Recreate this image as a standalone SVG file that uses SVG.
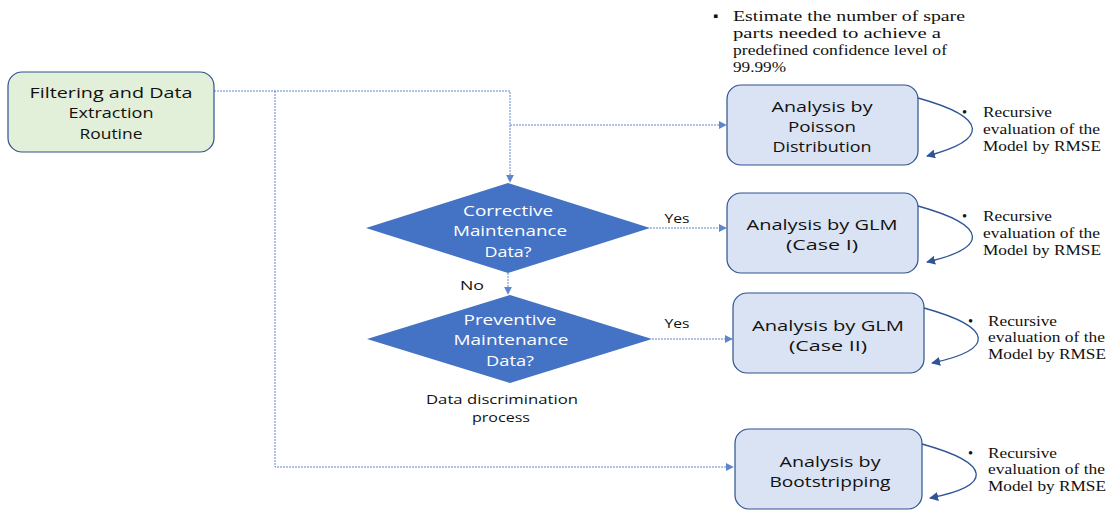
<svg xmlns="http://www.w3.org/2000/svg" width="1110" height="514" viewBox="0 0 1110 514">
<defs>
<marker id="ah" viewBox="0 0 10 10" refX="9" refY="5" markerWidth="8" markerHeight="8" markerUnits="userSpaceOnUse" orient="auto"><path d="M0,0 L10,5 L0,10 z" fill="#4472c4"/></marker>
<marker id="ah2" viewBox="0 0 10 10" refX="9" refY="5" markerWidth="9" markerHeight="9" markerUnits="userSpaceOnUse" orient="auto"><path d="M0,0 L10,5 L0,10 z" fill="#2f5597"/></marker>
<style>
.box{fill:#dae3f3;stroke:#2f528f;stroke-width:1.2}
.lbl{font-family:"Open Sans","Noto Sans",sans-serif;font-size:15px;fill:#111;text-anchor:middle}
.dtx{font-family:"Open Sans","Noto Sans",sans-serif;font-size:15px;fill:#fff;text-anchor:middle}
.sm{font-family:"Open Sans","Noto Sans",sans-serif;font-size:13.5px;fill:#111;text-anchor:middle}
.note{font-family:"Liberation Serif",serif;font-size:14.5px;fill:#111}
.con{fill:none;stroke:#4472c4;stroke-width:1;stroke-dasharray:2 1;opacity:0.85}
.loop{fill:none;stroke:#2f5597;stroke-width:1.3}
</style>
</defs>
<rect width="1110" height="514" fill="#fff"/>
<g id="connectors">
<path class="con" d="M214,91 H510 V182" marker-end="url(#ah)"/>
<path class="con" d="M510,125 H726" marker-end="url(#ah)"/>
<path class="con" d="M275,91 V467 H733" marker-end="url(#ah)"/>
<path class="con" d="M650,228 H726" marker-end="url(#ah)"/>
<path class="con" d="M508,273 V294" marker-end="url(#ah)"/>
<path class="con" d="M652,339 H732" marker-end="url(#ah)"/>
<path class="loop" d="M918,98 C990,118 988,140 927,156" marker-end="url(#ah2)"/>
<path class="loop" d="M918,206 C990,226 988,248 927,262" marker-end="url(#ah2)"/>
<path class="loop" d="M924,308 C996,328 994,350 932,363" marker-end="url(#ah2)"/>
<path class="loop" d="M922,444 C994,464 992,486 930,498" marker-end="url(#ah2)"/>
</g>
<g id="filter">
<rect x="8" y="72" width="206" height="80" rx="14" fill="#e2efd9" stroke="#2f528f" stroke-width="1.2"/>
<text class="lbl" x="111" y="98" textLength="163" lengthAdjust="spacingAndGlyphs">Filtering and Data</text>
<text class="lbl" x="111" y="118" textLength="85" lengthAdjust="spacingAndGlyphs">Extraction</text>
<text class="lbl" x="111" y="139" textLength="63" lengthAdjust="spacingAndGlyphs">Routine</text>
</g>
<g id="poisson">
<rect class="box" x="727" y="85" width="191" height="80" rx="14"/>
<text class="lbl" x="822" y="112" textLength="101" lengthAdjust="spacingAndGlyphs">Analysis by</text>
<text class="lbl" x="822" y="132" textLength="68" lengthAdjust="spacingAndGlyphs">Poisson</text>
<text class="lbl" x="822" y="152" textLength="99" lengthAdjust="spacingAndGlyphs">Distribution</text>
</g>
<g id="glm1">
<rect class="box" x="727" y="193" width="191" height="80" rx="14"/>
<text class="lbl" x="822" y="230" textLength="151" lengthAdjust="spacingAndGlyphs">Analysis by GLM</text>
<text class="lbl" x="822" y="250" textLength="72" lengthAdjust="spacingAndGlyphs">(Case I)</text>
</g>
<g id="glm2">
<rect class="box" x="733" y="293" width="191" height="80" rx="14"/>
<text class="lbl" x="828" y="331" textLength="152" lengthAdjust="spacingAndGlyphs">Analysis by GLM</text>
<text class="lbl" x="828" y="351" textLength="78" lengthAdjust="spacingAndGlyphs">(Case II)</text>
</g>
<g id="boot">
<rect class="box" x="735" y="429" width="187" height="80" rx="14"/>
<text class="lbl" x="830" y="467" textLength="101" lengthAdjust="spacingAndGlyphs">Analysis by</text>
<text class="lbl" x="830" y="487" textLength="121" lengthAdjust="spacingAndGlyphs">Bootstripping</text>
</g>
<g id="decision1">
<polygon points="366,228 508,183 650,228 508,273" fill="#4472c4"/>
<text class="dtx" x="508" y="216" textLength="90" lengthAdjust="spacingAndGlyphs">Corrective</text>
<text class="dtx" x="510" y="236" textLength="114" lengthAdjust="spacingAndGlyphs">Maintenance</text>
<text class="dtx" x="508" y="257" textLength="47" lengthAdjust="spacingAndGlyphs">Data?</text>
</g>
<g id="decision2">
<polygon points="367,339 510,295 652,339 510,383" fill="#4472c4"/>
<text class="dtx" x="510" y="325" textLength="93" lengthAdjust="spacingAndGlyphs">Preventive</text>
<text class="dtx" x="511" y="345" textLength="115" lengthAdjust="spacingAndGlyphs">Maintenance</text>
<text class="dtx" x="510" y="366" textLength="48" lengthAdjust="spacingAndGlyphs">Data?</text>
</g>
<g id="labels">
<text class="sm" x="677" y="223" textLength="25" lengthAdjust="spacingAndGlyphs">Yes</text>
<text class="sm" x="472" y="290" textLength="24" lengthAdjust="spacingAndGlyphs">No</text>
<text class="sm" x="677" y="328" textLength="25" lengthAdjust="spacingAndGlyphs">Yes</text>
<text class="sm" x="502" y="404" textLength="152" lengthAdjust="spacingAndGlyphs">Data discrimination</text>
<text class="sm" x="501" y="422" textLength="58" lengthAdjust="spacingAndGlyphs">process</text>
</g>
<g id="notes">
<text class="note" x="713" y="21">▪</text>
<text class="note" x="733" y="21" textLength="232" lengthAdjust="spacingAndGlyphs">Estimate the number of spare</text>
<text class="note" x="733" y="38" textLength="208" lengthAdjust="spacingAndGlyphs">parts needed to achieve a</text>
<text class="note" x="733" y="55" textLength="214" lengthAdjust="spacingAndGlyphs">predefined confidence level of</text>
<text class="note" x="733" y="72" textLength="53" lengthAdjust="spacingAndGlyphs">99.99%</text>
<g>
<text class="note" x="962" y="117">•</text>
<text class="note" x="983" y="117" textLength="69" lengthAdjust="spacingAndGlyphs">Recursive</text>
<text class="note" x="983" y="134" textLength="117" lengthAdjust="spacingAndGlyphs">evaluation of the</text>
<text class="note" x="983" y="151" textLength="118" lengthAdjust="spacingAndGlyphs">Model by RMSE</text>
</g>
<g>
<text class="note" x="962" y="221">•</text>
<text class="note" x="983" y="221" textLength="69" lengthAdjust="spacingAndGlyphs">Recursive</text>
<text class="note" x="983" y="238" textLength="117" lengthAdjust="spacingAndGlyphs">evaluation of the</text>
<text class="note" x="983" y="255" textLength="118" lengthAdjust="spacingAndGlyphs">Model by RMSE</text>
</g>
<g>
<text class="note" x="968" y="326">•</text>
<text class="note" x="988" y="326" textLength="69" lengthAdjust="spacingAndGlyphs">Recursive</text>
<text class="note" x="988" y="342" textLength="117" lengthAdjust="spacingAndGlyphs">evaluation of the</text>
<text class="note" x="988" y="359" textLength="118" lengthAdjust="spacingAndGlyphs">Model by RMSE</text>
</g>
<g>
<text class="note" x="968" y="458">•</text>
<text class="note" x="988" y="458" textLength="69" lengthAdjust="spacingAndGlyphs">Recursive</text>
<text class="note" x="988" y="474" textLength="117" lengthAdjust="spacingAndGlyphs">evaluation of the</text>
<text class="note" x="988" y="491" textLength="118" lengthAdjust="spacingAndGlyphs">Model by RMSE</text>
</g>
</g>
</svg>
